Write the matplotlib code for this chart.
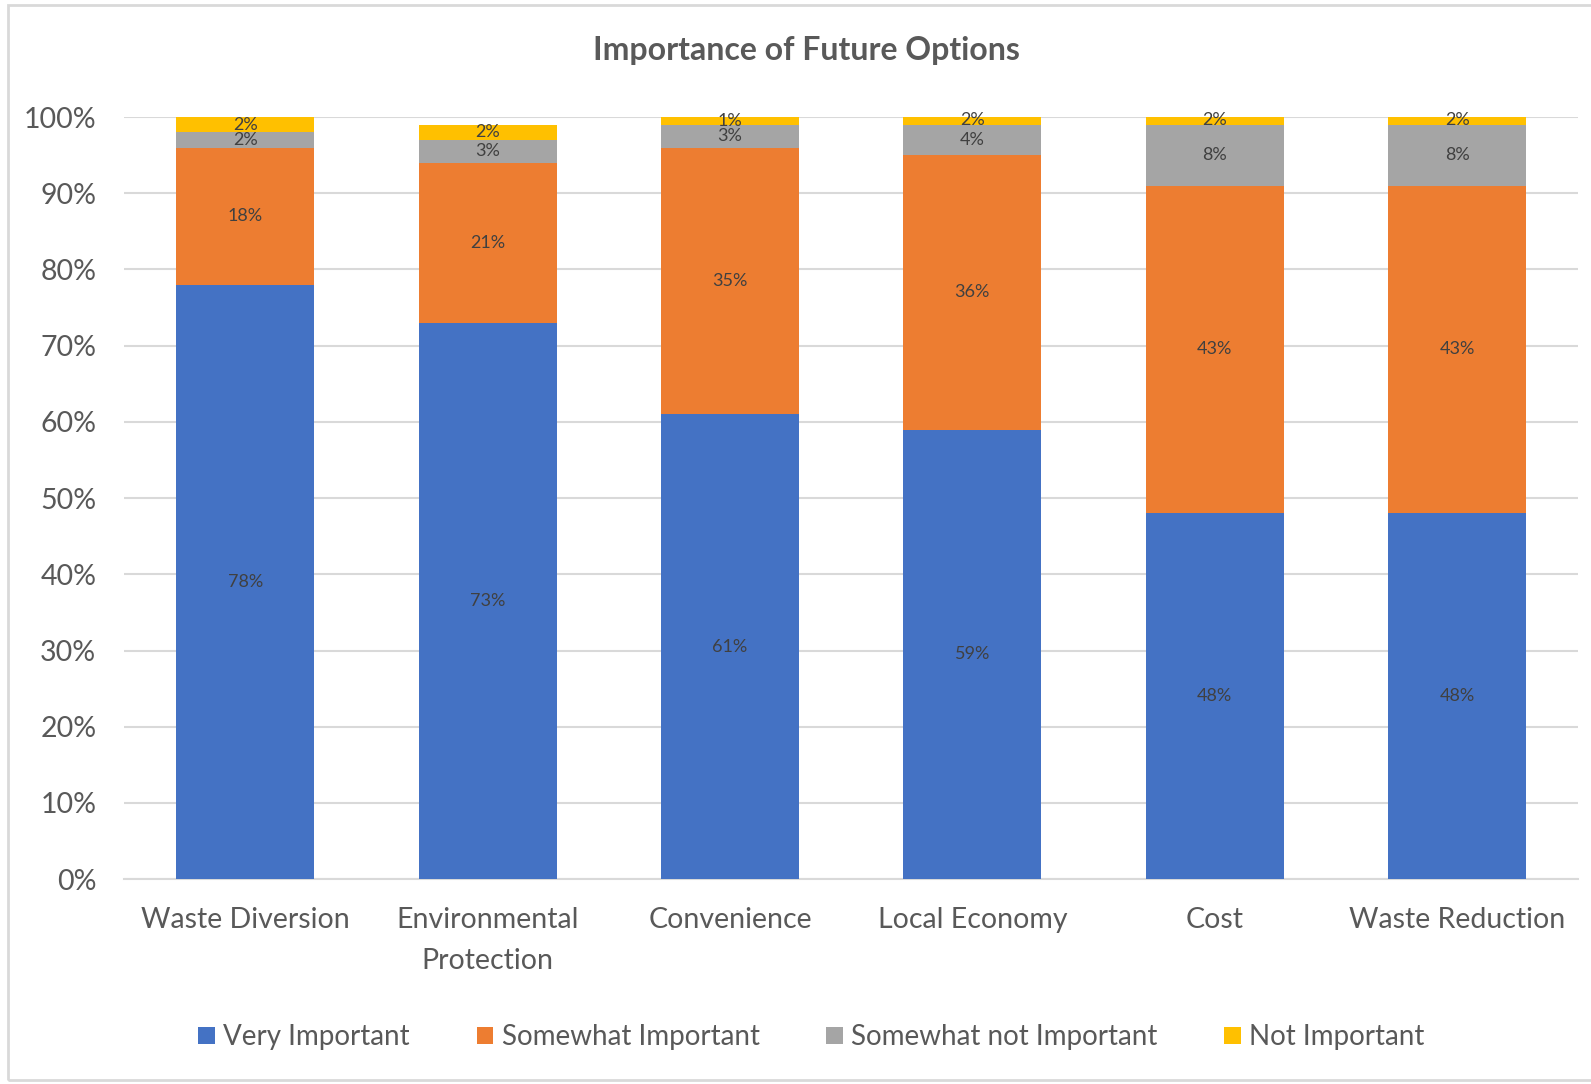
import numpy as np
import matplotlib.pyplot as plt
from matplotlib.patches import Rectangle
from matplotlib.ticker import PercentFormatter

plt.rcParams["font.family"] = ["Lato", "DejaVu Sans"]

categories = ["Waste Diversion", "Environmental\nProtection", "Convenience",
              "Local Economy", "Cost", "Waste Reduction"]
very_important = [78, 73, 61, 59, 48, 48]
somewhat_important = [18, 21, 35, 36, 43, 43]
somewhat_not_important = [2, 3, 3, 4, 8, 8]
not_important = [2, 2, 1, 2, 2, 2]

series = [
    ("Very Important", very_important, "#4472C4"),
    ("Somewhat Important", somewhat_important, "#ED7D31"),
    ("Somewhat not Important", somewhat_not_important, "#A5A5A5"),
    ("Not Important", not_important, "#FFC000"),
]

txt = "#595959"
fig = plt.figure(figsize=(15.91, 10.84), dpi=100)
ax = fig.add_axes([0.078, 0.189, 0.914, 0.703])

# thin outer frame of the chart area
fig.patches.append(Rectangle((0.005, 0.004), 1.2, 0.991, transform=fig.transFigure,
                             fill=False, edgecolor="#d9d9d9", linewidth=2))

x = np.arange(len(categories))
bottom = np.zeros(len(categories))
for name, vals, col in series:
    v = np.array(vals, dtype=float)
    ax.bar(x, v, 0.57, bottom=bottom, color=col, label=name, zorder=3)
    for xi, b, h in zip(x, bottom, v):
        yc = min(b + h / 2, 99.6)
        ax.text(xi, yc, f"{int(h)}%", ha="center", va="center",
                fontsize=13, color="#404040", zorder=4, clip_on=False)
    bottom += v

ax.set_xlim(-0.5, len(categories) - 0.5)
ax.set_ylim(0, 100)
ax.set_yticks(np.arange(0, 101, 10))
ax.yaxis.set_major_formatter(PercentFormatter(decimals=0))
ax.grid(axis="y", color="#d9d9d9", linewidth=1.5, zorder=0)
ax.set_xticks(x)
ax.set_xticklabels(categories, fontsize=20.5, color=txt, linespacing=1.7)
ax.tick_params(axis="y", labelsize=20.5, labelcolor=txt, length=0, pad=20)
ax.tick_params(axis="x", length=0, pad=20)
for s in ["top", "right", "left"]:
    ax.spines[s].set_visible(False)
ax.spines["bottom"].set_color("#d9d9d9")
ax.spines["bottom"].set_linewidth(1.5)

fig.text(0.507, 0.953, "Importance of Future Options", ha="center", va="center",
         fontsize=23, fontweight="bold", color=txt)

fig.legend(loc="center", bbox_to_anchor=(0.51, 0.043), ncol=4, frameon=False,
           fontsize=20, labelcolor=txt, handlelength=0.6, handleheight=0.6,
           handletextpad=0.3, columnspacing=2.4)

fig.savefig("out.png", dpi=100)
